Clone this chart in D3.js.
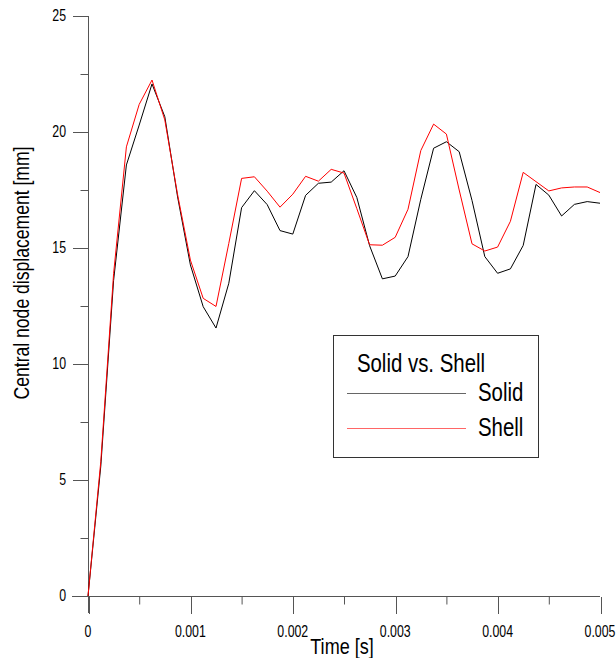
<!DOCTYPE html>
<html>
<head>
<meta charset="utf-8">
<script src="https://cdn.jsdelivr.net/npm/d3@7"></script>
<style>
  html, body { margin: 0; padding: 0; background: #fff; }
  svg { display: block; }
  text { font-family: "Liberation Sans", Arial, sans-serif; fill: #000; }
</style>
</head>
<body>
<svg id="chart" width="616" height="658"></svg>
<script>
// Time samples (s), step 0.000125 s
const timeSteps = d3.range(41).map(i => i * 0.000125);

// Central node displacement (mm)
const solidValues = [0, 5.6, 13.6, 18.58, 20.3, 22.07, 20.66, 17.2, 14.27, 12.47, 11.55,
  13.48, 16.74, 17.47, 16.87, 15.75, 15.6, 17.27, 17.79, 17.84, 18.33,
  17.18, 15.1, 13.67, 13.79, 14.63, 17.1, 19.3, 19.58, 19.15, 17.05,
  14.63, 13.91, 14.1, 15.11, 17.74, 17.28, 16.38, 16.88, 17.0, 16.93];
const shellValues = [0, 5.8, 13.9, 19.36, 21.19, 22.24, 20.52, 17.3, 14.48, 12.83, 12.48,
  15.2, 18.0, 18.07, 17.45, 16.76, 17.32, 18.09, 17.88, 18.39, 18.23,
  16.7, 15.14, 15.12, 15.46, 16.67, 19.2, 20.34, 19.91, 17.5, 15.18,
  14.87, 15.04, 16.15, 18.26, 17.86, 17.46, 17.59, 17.63, 17.63, 17.39];

const xMajorTicks = [0, 0.001, 0.002, 0.003, 0.004, 0.005];
const xMinorTicks = [0.0005, 0.0015, 0.0025, 0.0035, 0.0045];
const yMajorTicks = [0, 5, 10, 15, 20, 25];
const yMinorTicks = [2.5, 7.5, 12.5, 17.5, 22.5];

const seriesNames = ["Solid", "Shell"];
const seriesColors = ["#000000", "#ff0000"];
const legendTitle = "Solid vs. Shell";
const xTitle = "Time [s]";
const yTitle = "Central node displacement [mm]";

const svg = d3.select("#chart");

const x = d3.scaleLinear().domain([0, 0.005]).range([88, 600]);
const y = d3.scaleLinear().domain([0, 25]).range([596, 16]);

const axisColor = "#555";

// Text with tall, slightly narrow glyphs
function label(parent, px, py, str, size, anchor, rot) {
  const g = parent.append("g")
    .attr("transform", `translate(${px},${py}) rotate(${rot || 0}) scale(0.95,1.2)`);
  return g.append("text").attr("text-anchor", anchor).style("font-size", size + "px").text(str);
}

// Y axis: major and minor ticks, labels drawn separately
const yAxisG = svg.append("g").attr("transform", "translate(88.5,0)");
yAxisG.call(d3.axisLeft(y).tickValues(yMajorTicks).tickSize(16).tickSizeOuter(0).tickFormat(""));
yAxisG.append("g").selectAll("line").data(yMinorTicks).join("line")
  .attr("x1", -8).attr("x2", 0).attr("y1", d => y(d) + 0.5).attr("y2", d => y(d) + 0.5);
yAxisG.select(".domain").attr("d", `M0,${y(25)}V613`);
yMajorTicks.forEach(v => label(svg, 66, y(v) + 5, d3.format("d")(v), 13, "end"));

// X axis: ticks hang below the baseline
const xAxisG = svg.append("g").attr("transform", "translate(0,596.5)");
xAxisG.call(d3.axisBottom(x).tickValues(xMajorTicks).tickSize(17).tickSizeOuter(0).tickFormat(""));
xAxisG.append("g").selectAll("line").data(xMinorTicks).join("line")
  .attr("x1", d => x(d) + 0.5).attr("x2", d => x(d) + 0.5).attr("y1", 0).attr("y2", 8);
xAxisG.select(".domain").attr("d", "M72,0H600");
xAxisG.selectAll(".tick line").attr("transform", "translate(0.5,0)");
xMajorTicks.forEach(v => label(svg, x(v), 637, v === 0 ? "0" : d3.format(".3f")(v), 13, "middle"));

svg.selectAll(".domain, .tick line, g line").attr("stroke", axisColor).attr("stroke-width", 1);
svg.selectAll(".tick line").attr("shape-rendering", "crispEdges");

// Axis titles
label(svg, 342, 654, xTitle, 19, "middle");
label(svg, 29, 273, yTitle, 18.5, "middle", -90);

// Data lines
const line = d3.line().x((d, i) => x(timeSteps[i])).y(d => y(d));
[solidValues, shellValues].forEach((vals, k) => {
  svg.append("path").datum(vals).attr("d", line)
    .attr("fill", "none").attr("stroke", seriesColors[k]).attr("stroke-width", 1);
});

// Legend
const lg = svg.append("g");
lg.append("rect").attr("x", 333.5).attr("y", 335.5).attr("width", 205).attr("height", 122)
  .attr("fill", "#fff").attr("stroke", "#333").attr("stroke-width", 1);
label(lg, 421, 372, legendTitle, 21.5, "middle");
seriesNames.forEach((name, k) => {
  const yy = 393 + k * 35;
  lg.append("line").attr("x1", 347).attr("x2", 466).attr("y1", yy + 0.5).attr("y2", yy + 0.5)
    .attr("stroke", seriesColors[k]).attr("stroke-width", 1).attr("stroke-opacity", 0.6);
  label(lg, 478, yy + 8, name, 21.5, "start");
});
</script>
</body>
</html>
